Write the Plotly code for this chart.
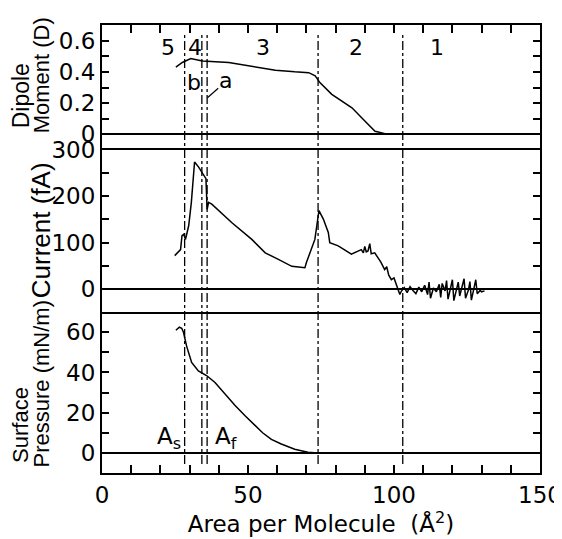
import plotly.graph_objects as go

# ---------------- data ----------------
dipole_x = [25.3, 27.5, 30.4, 34.4, 43.4, 50.3, 59.4, 66.0, 70.8, 73.0, 74.7, 78.7, 85.6, 90.1, 93.5, 98.0, 103.0]
dipole_y = [0.43, 0.46, 0.485, 0.47, 0.46, 0.44, 0.41, 0.40, 0.395, 0.375, 0.33, 0.256, 0.17, 0.084, 0.02, 0.0, 0.0]

current_x = [24.9, 26.9, 27.4, 28.0, 28.6, 29.7, 30.6, 31.7, 33.1, 34.8, 35.6, 36.0, 36.5, 37.6,
             44.5, 51.3, 55.9, 60.4, 65.0, 69.5, 70.0, 72.9, 74.3, 75.8, 77.5, 78.0, 80.9, 85.4,
             88.8, 89.5, 90.0, 90.5, 91.1, 91.7, 92.2, 93.4, 95.5, 96.8, 97.5, 98.2, 99.1, 100.0,
             101.4, 102.0, 102.5, 103.5, 104.5, 105.5, 106.5, 107.5, 108.5, 109.5, 110.5, 111.5,
             112.0, 112.5, 113.5, 114.5, 115.5, 116.0, 116.5, 117.5, 118.0, 118.5, 119.5, 120.0,
             120.5, 121.5, 122.0, 122.5, 123.5, 124.0, 124.5, 125.5, 126.0, 126.5, 127.5, 128.0,
             128.5, 129.5, 130.0, 131.0]
current_y = [72, 85, 115, 118, 107, 137, 187, 274, 263, 245, 238, 172, 187, 183,
             143, 107, 78, 64, 49, 46, 57, 107, 169, 151, 122, 100, 93, 75,
             85, 78, 92, 80, 82, 98, 76, 78, 58, 42, 48, 30, 20, 24,
             -1, -12, -5, 3, -8, 5, -3, -10, 4, -6, 8, -12,
             15, -20, 2, -6, 10, -18, 12, -4, 18, -22, 6, 20,
             -25, 3, 15, -15, 8, 22, -20, -2, 16, -24, 5, 20,
             -10, -3, -6, -4]

pressure_x = [25.3, 26.5, 27.3, 27.9, 29.0, 30.7, 33.0, 35.8, 38.7, 42.0, 45.5, 49.0, 52.3, 55.0, 58.0, 61.4, 66.0, 70.5, 74.0]
pressure_y = [61, 62.5, 62, 60, 53, 45, 40.8, 38.5, 35, 29.5, 23.7, 18.5, 14, 10, 6.7, 4.4, 1.8, 0.3, 0]

boundary_x = [28.3, 34.2, 36.0, 74.0, 103.0]

region_labels = ["5", "4", "3", "2", "1"]
region_label_x = [22.5, 32.0, 55.0, 87.0, 114.7]

FONT = "DejaVu Sans, Verdana, sans-serif"
TFONT = "Liberation Sans, Arial, Helvetica, sans-serif"
FS = 23
BLACK = "black"

fig = go.Figure()

line_style = dict(color=BLACK, width=1.5)
fig.add_trace(go.Scatter(x=pressure_x, y=pressure_y, mode="lines", line=line_style,
                         xaxis="x", yaxis="y", showlegend=False, hoverinfo="skip"))
fig.add_trace(go.Scatter(x=current_x, y=current_y, mode="lines", line=line_style,
                         xaxis="x2", yaxis="y2", showlegend=False, hoverinfo="skip"))
fig.add_trace(go.Scatter(x=dipole_x, y=dipole_y, mode="lines", line=line_style,
                         xaxis="x3", yaxis="y3", showlegend=False, hoverinfo="skip"))

common_y = dict(showline=True, linecolor=BLACK, linewidth=2, mirror="ticks",
                ticks="inside", ticklen=7, tickwidth=1.5, tickcolor=BLACK,
                showgrid=False, zeroline=True, zerolinecolor=BLACK, zerolinewidth=2,
                automargin=False,
                tickfont=dict(family=FONT, size=FS, color=BLACK))

# page body has an 8px margin, so the figure is sized to the visible area
fig.update_layout(
    width=554, height=531,
    margin=dict(l=94, r=22, t=17, b=66),
    plot_bgcolor="white", paper_bgcolor="white",
    font=dict(family=FONT, size=FS, color=BLACK),
    xaxis=dict(domain=[0, 1], anchor="y", range=[0, 150], dtick=50,
               showline=True, linecolor=BLACK, linewidth=2, mirror=False,
               ticks="inside", ticklen=8, tickwidth=1.5, tickcolor=BLACK,
               minor=dict(dtick=10, ticks="inside", ticklen=8, tickwidth=1.5, tickcolor=BLACK),
               showgrid=False, zeroline=False, automargin=False,
               tickfont=dict(family=FONT, size=FS, color=BLACK),
               title=dict(text="Area per Molecule  (Å<sup>2</sup>)",
                          font=dict(family=FONT, size=FS, color=BLACK), standoff=6)),
    yaxis=dict(domain=[0, 0.359], anchor="x", range=[-10, 70], dtick=20,
               minor=dict(dtick=10, ticks="inside", ticklen=7, tickwidth=1.5, tickcolor=BLACK),
               **common_y),
    xaxis2=dict(domain=[0, 1], anchor="y2", range=[0, 150], matches="x",
                showline=True, linecolor=BLACK, linewidth=2, mirror=True,
                ticks="", showticklabels=False, showgrid=False, zeroline=False, automargin=False),
    yaxis2=dict(domain=[0.359, 0.721], anchor="x2", range=[-50, 300], dtick=100,
                minor=dict(dtick=50, ticks="inside", ticklen=7, tickwidth=1.5, tickcolor=BLACK),
                **common_y),
    xaxis3=dict(domain=[0, 1], anchor="y3", range=[0, 150], matches="x", side="top",
                showline=True, linecolor=BLACK, linewidth=2, mirror=False,
                ticks="inside", ticklen=8, tickwidth=1.5, tickcolor=BLACK, dtick=10,
                showticklabels=False, showgrid=False, zeroline=False, automargin=False),
    yaxis3=dict(domain=[0.721, 1], anchor="x3", range=[-0.1, 0.7], dtick=0.2,
                minor=dict(dtick=0.1, ticks="inside", ticklen=7, tickwidth=1.5, tickcolor=BLACK),
                **common_y),
)

# boundary dash-dot lines through all panels
for bx in boundary_x:
    fig.add_shape(type="line", xref="x", yref="paper", x0=bx, x1=bx, y0=0.02, y1=0.978,
                  line=dict(color=BLACK, width=1.3, dash="dashdot"))

annotations = []
for lab, lx in zip(region_labels, region_label_x):
    annotations.append(dict(text=lab, x=lx, y=0.555, xref="x3", yref="y3", showarrow=False,
                            font=dict(family=FONT, size=22, color=BLACK)))
annotations.append(dict(text="b", x=31.4, y=0.335, xref="x3", yref="y3", showarrow=False,
                        font=dict(family=FONT, size=22, color=BLACK)))
annotations.append(dict(text="a", x=42.3, y=0.345, xref="x3", yref="y3", showarrow=False,
                        font=dict(family=FONT, size=22, color=BLACK)))
annotations.append(dict(text="A<sub>s</sub>", x=22.8, y=7.3, xref="x", yref="y", showarrow=False,
                        font=dict(family=FONT, size=23, color=BLACK)))
annotations.append(dict(text="A<sub>f</sub>", x=42.5, y=7.3, xref="x", yref="y", showarrow=False,
                        font=dict(family=FONT, size=23, color=BLACK)))

# y axis titles (rotated, two lines where needed)
def ytitle(text, px, pybottom, size):
    return dict(text=text, x=px, y=pybottom, xref="paper", yref="paper", textangle=-90,
                xanchor="center", yanchor="bottom", showarrow=False,
                font=dict(family=TFONT, size=size, color=BLACK))

annotations += [
    ytitle("Dipole", -0.185, 0.766, 23),
    ytitle("Moment (D)", -0.139, 0.754, 22),
    ytitle("Current (fA)", -0.139, 0.386, 26),
    ytitle("Surface", -0.185, 0.018, 22),
    ytitle("Pressure (mN/m)", -0.139, 0.007, 22),
]
fig.update_layout(annotations=annotations)

# leader line for label "a"
fig.add_shape(type="line", xref="x3", yref="y3", x0=36.1, y0=0.234, x1=39.8, y1=0.295,
              line=dict(color=BLACK, width=1.2))

fig.write_html("out.html")
